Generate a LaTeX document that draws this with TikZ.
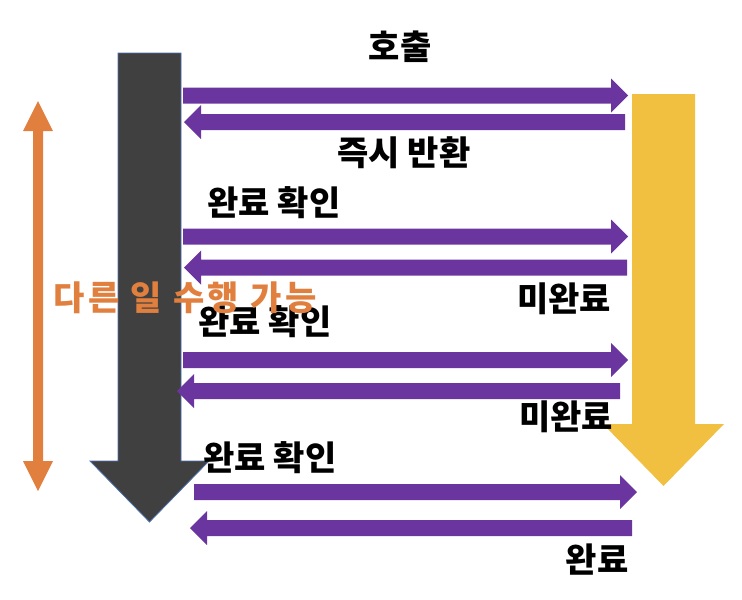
\documentclass[tikz,border=0pt]{standalone}
\usepackage{fontspec}
\newfontfamily\kr{Noto Sans CJK KR}
\newfontfamily\krsp{Noto Sans CJK KR}[LetterSpace=10]
\definecolor{purp}{HTML}{6B35A0}
\definecolor{yel}{HTML}{F2C040}
\definecolor{dark}{HTML}{404040}
\definecolor{orn}{HTML}{E07F3E}
\definecolor{edgeblue}{HTML}{4A6FAF}
\newcommand\purR[3]{\fill[purp] (#2,#1-8) -- (#3-17,#1-8) -- (#3-17,#1-17) -- (#3,#1) -- (#3-17,#1+17) -- (#3-17,#1+8) -- (#2,#1+8) -- cycle;}
\newcommand\purL[3]{\fill[purp] (#3,#1-8) -- (#2+17,#1-8) -- (#2+17,#1-17) -- (#2,#1) -- (#2+17,#1+17) -- (#2+17,#1+8) -- (#3,#1+8) -- cycle;}
\begin{document}
\begin{tikzpicture}[x=1pt,y=-1pt,
  lbl/.style={font=\kr\bfseries\fontsize{34}{36}\selectfont, text=black, inner sep=0pt},
  olbl/.style={font=\krsp\bfseries\fontsize{34}{36}\selectfont, text=orn, inner sep=0pt}]
\useasboundingbox (0,0) rectangle (742,600);
% dark arrow
\filldraw[fill=dark, draw=edgeblue, line width=0.8pt]
  (118,53) -- (181,53) -- (181,461) -- (209,461) -- (149.5,522) -- (90,461) -- (118,461) -- cycle;
% yellow arrow
\fill[yel] (632,94) -- (695,94) -- (695,424) -- (724,424) -- (663.5,486) -- (603,424) -- (632,424) -- cycle;
% orange double arrow
\fill[orn] (38,101) -- (53,131) -- (43,131) -- (43,461) -- (53,461) -- (38,491) -- (23,461) -- (33,461) -- (33,131) -- (23,131) -- cycle;
% purple arrows
\purR{95.5}{183}{628}
\purL{122}{184}{625}
\purR{236.5}{183}{628}
\purL{267.5}{184}{627}
\purR{360}{183}{628}
\purL{391}{177}{620}
\purR{492}{194}{637}
\purL{528}{190}{632}
% labels
\node[lbl] (call) at (400,47) {호출};
\node[lbl] (ret) at (404,153) {즉시 반환};
\node[lbl] (chk1) at (274,203) {완료 확인};
\node[lbl] (nd1) at (564,299) {미완료};
\node[lbl] (chk2) at (265,322) {완료 확인};
\node[lbl] (nd2) at (566,417) {미완료};
\node[lbl] (chk3) at (270,458) {완료 확인};
\node[lbl] (done) at (597,560) {완료};
\node[olbl] (other) at (185,298) {다른 일 수행 가능};
\end{tikzpicture}
\end{document}
